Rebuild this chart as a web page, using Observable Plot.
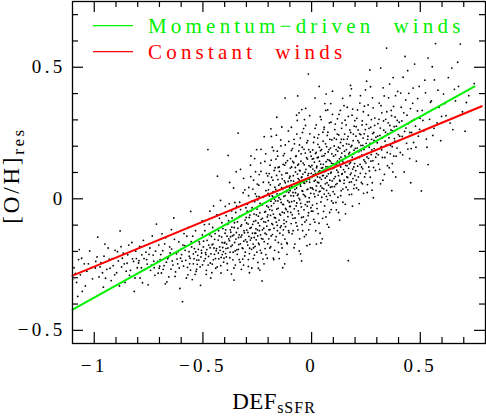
<!DOCTYPE html>
<html>
<head>
<meta charset="utf-8">
<script src="https://cdn.jsdelivr.net/npm/d3@7"></script>
<script src="https://cdn.jsdelivr.net/npm/@observablehq/plot@0.6"></script>
<style>
  html, body { margin: 0; padding: 0; background: #fff; }
  #chart { width: 486px; height: 417px; }
</style>
</head>
<body>
<div id="chart"></div>
<script>
// ---- data ----
const xDomain = [-1.1, 0.8];
const yDomain = [-0.55, 0.75];
const xMajorTicks = [-1, -0.5, 0, 0.5];
const xMinorTicks = [-0.9, -0.8, -0.7, -0.6, -0.4, -0.3, -0.2, -0.1, 0.1, 0.2, 0.3, 0.4, 0.6, 0.7];
const yMajorTicks = [-0.5, 0, 0.5];
const yMinorTicks = [-0.4, -0.3, -0.2, -0.1, 0.1, 0.2, 0.3, 0.4, 0.6, 0.7];

const momentumX = [-1.1, 0.75];
const momentumY = [-0.421, 0.427];
const constantX = [-1.1, 0.783];
const constantY = [-0.292, 0.352];

const seriesNames = ["Momentum\u2212driven\u00a0\u00a0winds", "Constant\u00a0\u00a0winds"];
const seriesColors = ["#00f000", "#ff0000"];

// galaxies: [DEF_sSFR, [O/H]_res]
const galaxies = [
[-1.093,-.262],[-1.081,-.318],[-1.072,-.231],[-1.064,-.289],[-1.055,-.352],[-1.046,-.247],[-1.034,-.275],[-1.021,-.198],[-1.008,-.304],
[-.995,-.263],[-.987,-.221],[-.978,-.297],[-.969,-.243],[-.958,-.336],[-.951,-.172],[-.942,-.268],[-.931,-.229],[-.922,-.311],[-.913,-.254],[-.904,-.196],
[-.897,-.281],[-.889,-.236],[-.881,-.122],[-.874,-.259],[-.866,-.207],[-.858,-.318],[-.849,-.245],[-.841,-.176],[-.833,-.272],[-.824,-.228],[-.816,-.352],[-.809,-.199],[-.802,-.262],
[-.796,-.244],[-.789,-.301],[-.781,-.213],[-.774,-.158],[-.767,-.269],[-.759,-.231],[-.752,-.327],[-.744,-.187],[-.737,-.252],[-.729,-.214],[-.721,-.291],[-.714,-.096],[-.708,-.238],[-.703,-.176],[-.701,-.264],
[-.697,-.231],[-.691,-.282],[-.685,-.197],[-.679,-.254],[-.672,-.148],[-.666,-.316],[-.659,-.222],[-.653,-.183],[-.647,-.267],[-.641,-.236],[-.634,-.073],[-.628,-.295],[-.622,-.209],[-.616,-.247],[-.611,-.164],[-.606,-.341],[-.603,-.226],[-.601,-.192],
[-.598,-.212],[-.594,-.391],[-.589,-.256],[-.584,-.178],[-.579,-.234],[-.574,-.142],[-.569,-.289],[-.564,-.201],[-.559,-.226],[-.554,-.163],[-.549,-.307],[-.544,-.247],[-.539,-.189],[-.534,-.121],[-.529,-.268],[-.524,-.215],[-.519,-.233],[-.515,-.172],[-.511,-.329],[-.507,-.196],[-.504,-.084],[-.502,-.251],[-.556,-.048],[-.531,-.276],
[-.498,-.183],[-.495,-.236],[-.491,-.121],[-.488,-.205],[-.484,-.272],[-.481,-.158],[-.477,.187],[-.474,-.219],[-.471,-.096],[-.467,-.186],[-.464,-.301],[-.461,-.143],[-.457,-.248],[-.454,-.172],[-.451,-.027],[-.447,-.211],[-.444,-.132],[-.441,-.264],[-.437,-.189],[-.433,.086],[-.430,-.157],[-.427,-.228],[-.424,-.074],[-.421,-.196],[-.417,-.282],[-.414,-.145],[-.411,-.212],[-.408,-.113],[-.405,-.241],[-.402,-.168],[-.468,-.047],[-.419,-.006],
[-.398,-.131],[-.396,-.208],[-.393,-.064],[-.391,-.172],[-.388,-.246],[-.386,-.097],[-.384,.165],[-.381,-.152],[-.379,-.019],[-.376,-.224],[-.374,-.118],[-.371,-.181],[-.369,-.286],[-.366,-.073],[-.364,-.141],[-.361,-.203],[-.359,.041],[-.356,-.109],[-.354,-.166],[-.351,-.252],[-.349,-.052],[-.346,-.128],[-.344,-.194],[-.341,-.088],[-.338,.250],[-.336,-.147],[-.333,-.231],[-.331,-.013],[-.328,-.171],[-.326,-.104],[-.323,-.268],[-.321,-.138],[-.318,-.062],[-.316,-.189],[-.313,.078],[-.311,-.121],[-.308,-.217],[-.306,-.081],[-.304,-.156],[-.302,-.034],[-.357,-.309],[-.327,.112],
[-.299,-.092],[-.297,-.164],[-.295,-.021],[-.293,-.128],[-.291,-.231],[-.289,.043],[-.287,-.071],[-.285,-.188],[-.283,-.112],[-.281,.128],[-.279,-.046],[-.277,-.149],[-.275,-.263],[-.273,-.008],[-.271,-.097],[-.269,-.172],[-.267,.071],[-.265,-.058],[-.263,-.214],[-.261,-.131],[-.259,.019],[-.257,-.083],[-.255,-.156],[-.253,.187],[-.251,-.039],[-.249,-.118],[-.247,-.242],[-.245,-.066],[-.243,.052],[-.241,-.174],[-.239,-.102],[-.237,-.017],[-.235,-.137],[-.233,.104],[-.231,-.206],[-.228,-.312],[-.226,-.074],[-.224,-.153],[-.222,.006],[-.220,-.112],[-.218,.236],[-.216,-.051],[-.214,-.189],[-.212,-.089],[-.210,.031],[-.208,-.135],[-.206,-.027],[-.204,-.226],[-.202,.087],[-.201,-.061],[-.286,-.281],[-.262,.153],[-.238,-.271],[-.215,.142],[-.248,-.004],
[-.199,-.032],[-.197,.062],[-.196,-.118],[-.194,.011],[-.192,-.187],[-.191,.128],[-.189,-.063],[-.187,-.009],[-.186,-.141],[-.184,.082],[-.182,-.044],[-.181,.196],[-.179,-.098],[-.177,.027],[-.176,-.226],[-.174,-.017],[-.172,.108],[-.171,-.071],[-.169,.044],[-.167,-.157],[-.166,-.008],[-.164,.151],[-.162,-.089],[-.160,.310],[-.159,.019],[-.157,-.121],[-.155,.073],[-.154,-.036],[-.152,-.203],[-.150,.004],[-.149,.121],[-.147,-.058],[-.145,.057],[-.144,-.109],[-.142,.224],[-.140,-.014],[-.139,-.172],[-.137,.091],[-.135,-.051],[-.134,.036],[-.132,-.138],[-.130,.164],[-.129,-.022],[-.127,-.081],[-.125,.068],[-.124,-.247],[-.122,.012],[-.120,-.106],[-.119,.137],[-.117,-.041],[-.115,.047],[-.114,-.167],[-.112,.098],[-.110,-.007],[-.109,-.068],[-.107,.258],[-.105,.024],[-.104,-.128],[-.102,.079],[-.101,-.029],[-.185,.237],[-.158,.181],[-.133,-.262],[-.121,.205],[-.143,-.002],
[-.099,.031],[-.098,.117],[-.096,-.052],[-.095,.069],[-.093,.184],[-.092,-.011],[-.090,-.133],[-.089,.046],[-.087,.142],[-.086,-.074],[-.084,.088],[-.083,.011],[-.081,.226],[-.080,-.038],[-.078,.057],[-.077,-.172],[-.075,.119],[-.074,.023],[-.072,-.091],[-.071,.163],[-.069,.041],[-.068,-.016],[-.066,.298],[-.065,.094],[-.063,-.118],[-.062,.018],[-.060,.132],[-.059,-.057],[-.057,.072],[-.056,.205],[-.054,-.004],[-.053,.107],[-.051,-.209],[-.050,.048],[-.048,.171],[-.047,-.031],[-.045,.083],[-.044,-.098],[-.042,.252],[-.041,.029],[-.039,.136],[-.038,-.069],[-.036,.061],[-.035,.188],[-.033,-.144],[-.032,.013],[-.030,.101],[-.029,-.022],[-.027,.344],[-.026,.074],[-.024,-.081],[-.023,.156],[-.021,.035],[-.020,-.012],[-.018,.221],[-.017,.089],[-.015,.474],[-.014,-.053],[-.012,.126],[-.011,.004],[-.009,.063],[-.008,-.173],[-.006,.178],[-.005,.042],[-.003,-.034],[-.002,.097],[-.122,.383],[-.064,.391],[-.046,-.236],[-.028,.279],[-.058,.327],[-.013,-.118],
[.001,.082],[.003,.151],[.004,-.024],[.006,.113],[.007,.036],[.009,.214],[.010,-.078],[.012,.067],[.013,.139],[.015,.008],[.016,.268],[.018,.097],[.019,-.121],[.021,.176],[.022,.049],[.024,.124],[.025,-.037],[.027,.083],[.028,.231],[.030,.014],[.031,.158],[.033,.061],[.034,-.093],[.036,.196],[.037,.107],[.039,.029],[.040,.312],[.042,.132],[.043,-.012],[.045,.074],[.046,.187],[.048,.041],[.049,-.152],[.051,.118],[.052,.253],[.054,.089],[.055,-.048],[.057,.164],[.058,.018],[.060,.103],[.061,.362],[.063,.057],[.064,.209],[.066,-.069],[.067,.141],[.069,.032],[.070,.086],[.072,.241],[.073,-.003],[.075,.121],[.076,.178],[.078,.052],[.079,-.108],[.081,.147],[.082,.289],[.084,.071],[.085,.013],[.087,.193],[.088,.098],[.090,-.041],[.091,.136],[.093,.224],[.094,.046],[.096,.409],[.097,.115],[.099,-.016],[.035,.427],[.074,.338],[.022,-.172],[.058,.272],
[.101,.162],[.103,.077],[.104,.231],[.106,.018],[.108,.129],[.109,.284],[.111,.054],[.113,.187],[.114,-.042],[.116,.109],[.118,.246],[.119,.143],[.121,.006],[.123,.196],[.124,.088],[.126,.321],[.128,.152],[.129,-.081],[.131,.067],[.133,.214],[.134,.121],[.136,.031],[.138,.268],[.139,.174],[.141,.096],[.143,.382],[.144,-.013],[.146,.138],[.148,.226],[.149,.059],[.151,.181],[.153,.102],[.154,.299],[.156,-.057],[.158,.157],[.159,.044],[.161,.209],[.163,.126],[.164,.348],[.166,.081],[.168,.237],[.169,-.235],[.171,.171],[.173,.016],[.174,.133],[.176,.262],[.178,.092],[.179,.431],[.181,.198],[.183,.064],[.184,.147],[.186,.318],[.188,-.028],[.189,.113],[.191,.221],[.193,.171],[.194,.039],[.196,.276],[.198,.134],[.199,.088],
[.201,.192],[.203,.107],[.205,.274],[.207,.041],[.209,.156],[.211,.338],[.213,.221],[.215,.083],[.217,.179],[.219,-.018],[.221,.247],[.223,.131],[.225,.392],[.227,.203],[.229,.062],[.231,.166],[.233,.296],[.235,.114],[.237,.231],[.239,.021],[.241,.187],[.243,.352],[.245,.142],[.247,.263],[.249,.096],[.251,.211],[.253,.447],[.255,.159],[.257,.054],[.259,.238],[.261,.318],[.263,.121],[.265,.196],[.268,.490],[.270,.082],[.272,.272],[.274,.168],[.276,.226],[.278,.033],[.280,.384],[.282,.145],[.284,.004],[.286,.252],[.288,.191],[.291,.307],[.294,.108],[.296,.234],[.299,.172],
[.302,.213],[.305,.286],[.308,.132],[.311,.364],[.314,.241],[.317,.057],[.320,.198],[.323,.327],[.326,.157],[.329,.422],[.332,.261],[.335,.093],[.338,.219],[.341,.302],[.345,.573],[.348,.176],[.351,.247],[.354,.384],[.357,.118],[.360,.279],[.363,.203],[.366,.336],[.369,.031],[.372,.258],[.375,.461],[.378,.162],[.381,.229],[.384,.311],[.387,.083],[.390,.276],[.393,.193],[.396,.408],[.399,.244],[.318,.497],[.371,.134],
[.403,.291],[.408,.176],[.412,.348],[.417,.237],[.421,.462],[.426,.102],[.430,.541],[.434,.269],[.439,.318],[.443,.189],[.447,.401],[.452,.252],[.456,.061],[.461,.297],[.465,.363],[.469,.214],[.474,.512],[.478,.276],[.482,.143],[.487,.334],[.491,.238],[.495,.427],[.499,.306],[.458,.191],
[.505,.030],[.509,.336],[.516,.258],[.524,.403],[.531,.196],[.536,.535],[.536,.130],[.543,.302],[.551,.372],[.558,.241],[.565,.452],[.570,.590],[.577,.289],[.586,.348],[.594,.221],
[.607,.398],[.618,.316],[.629,.461],[.645,.497],[.650,.263],[.662,.372],[.676,.427],[.684,.588],[.694,.331],
[.706,.257],[.723,.392],[.748,.438],
[-1.087,-.284],[-1.058,-.226],[-1.099,-.305],[-1.041,-.331],[-1.069,-.193],[-1.013,-.262],[-1.027,-.247],[-1.076,-.371],
[-.962,-.281],[-.993,-.238],[-.917,-.227],[-.948,-.302],[-.936,-.187],[-.973,-.259],[-.906,-.289],[-.984,-.146],[-.927,-.264],[-.955,-.218],
[-.862,-.247],[-.893,-.201],[-.838,-.291],[-.871,-.226],[-.819,-.238],[-.846,-.213],[-.884,-.331],[-.827,-.166],[-.853,-.275],[-.806,-.227],[-.877,-.182],[-.812,-.301],
[-.783,-.262],[-.762,-.203],[-.791,-.181],[-.741,-.272],[-.726,-.237],[-.756,-.248],[-.778,-.319],[-.718,-.199],[-.733,-.141],[-.771,-.227],[-.748,-.211],[-.706,-.283],[-.794,-.235],[-.724,-.262],
[-.694,-.212],[-.668,-.241],[-.683,-.268],[-.651,-.206],[-.638,-.252],[-.676,-.171],[-.619,-.229],[-.657,-.297],[-.609,-.263],[-.688,-.133],[-.644,-.191],[-.626,-.278],[-.662,-.228],[-.631,-.154],[-.699,-.256],[-.614,-.201],[-.673,-.323],[-.645,-.117],
[-.596,-.237],[-.582,-.196],[-.571,-.261],[-.563,-.218],[-.552,-.183],[-.541,-.228],[-.533,-.202],[-.526,-.249],[-.517,-.164],[-.509,-.221],[-.587,-.132],[-.576,-.301],[-.561,-.247],[-.547,-.142],[-.536,-.287],[-.521,-.192],[-.513,-.259],[-.503,-.137],[-.592,-.176],[-.567,-.109],[-.544,-.209],[-.528,-.233],[-.557,-.271],[-.506,-.206],
[-.497,-.161],[-.489,-.227],[-.482,-.193],[-.476,-.252],[-.469,-.137],[-.463,-.209],[-.458,-.175],[-.452,-.232],[-.446,-.154],[-.439,-.197],[-.434,-.259],[-.428,-.121],[-.423,-.183],[-.416,-.223],[-.412,-.166],[-.406,-.201],[-.493,-.098],[-.485,-.287],[-.473,-.176],[-.466,-.244],[-.455,-.109],[-.449,-.187],[-.442,-.227],[-.436,-.061],[-.429,-.206],[-.425,-.141],[-.418,-.254],[-.413,-.091],[-.409,-.185],[-.403,-.226],[-.486,-.212],[-.459,-.281],
[-.399,-.166],[-.395,-.118],[-.392,-.221],[-.389,-.142],[-.385,-.187],[-.382,-.083],[-.378,-.159],[-.375,-.203],[-.372,-.127],[-.368,-.046],[-.365,-.176],[-.362,-.232],[-.358,-.137],[-.355,-.091],[-.352,-.198],[-.348,-.153],[-.345,-.028],[-.342,-.211],[-.339,-.112],[-.335,-.174],[-.332,-.067],[-.329,-.241],[-.325,-.145],[-.322,-.099],[-.319,-.187],[-.315,.023],[-.312,-.161],[-.309,-.129],[-.305,-.203],[-.301,-.071],[-.397,-.029],[-.387,-.271],[-.377,.062],[-.367,-.108],[-.357,-.263],[-.347,.103],[-.337,-.192],[-.327,-.041],[-.317,-.229],[-.307,.034],[-.394,-.189],[-.373,-.144],[-.353,-.014],[-.333,-.137],[-.313,-.252],
[-.298,-.119],[-.296,-.047],[-.294,-.176],[-.292,-.096],[-.290,.012],[-.288,-.143],[-.286,-.208],[-.284,-.062],[-.282,-.157],[-.280,.084],[-.278,-.109],[-.276,-.192],[-.274,-.034],[-.272,-.131],[-.270,.037],[-.268,-.227],[-.266,-.086],[-.264,-.147],[-.262,-.011],[-.260,-.181],[-.258,.103],[-.256,-.114],[-.254,-.061],[-.252,-.203],[-.250,.056],[-.248,-.141],[-.246,-.092],[-.244,-.169],[-.242,.008],[-.240,-.121],[-.238,-.053],[-.236,-.196],[-.234,.136],[-.232,-.078],[-.230,-.151],[-.228,-.024],[-.226,-.118],[-.224,-.229],[-.222,.063],[-.220,-.087],[-.218,-.163],[-.216,.011],[-.214,-.131],[-.212,-.048],[-.210,-.212],[-.208,.097],[-.206,-.104],[-.204,-.069],[-.202,-.171],[-.2005,.021],[-.291,-.257],[-.279,.163],[-.267,-.186],[-.253,.009],[-.245,-.264],[-.233,.188],[-.219,-.247],[-.211,.171],[-.257,-.131],[-.241,.092],
[-.1995,-.083],[-.1985,.034],[-.197,-.152],[-.195,.096],[-.193,-.041],[-.191,-.117],[-.190,.053],[-.188,-.182],[-.186,.147],[-.185,-.027],[-.183,-.094],[-.181,.011],[-.180,-.136],[-.178,.071],[-.176,-.058],[-.175,.183],[-.173,-.112],[-.171,-.001],[-.170,-.196],[-.168,.118],[-.166,-.073],[-.165,.036],[-.163,-.144],[-.161,.089],[-.160,-.039],[-.158,-.101],[-.156,.162],[-.155,-.008],[-.153,-.166],[-.151,.052],[-.150,-.081],[-.148,.104],[-.146,-.131],[-.145,.019],[-.143,-.062],[-.141,.201],[-.140,-.103],[-.138,.042],[-.136,-.187],[-.135,.076],[-.133,-.021],[-.131,.131],[-.130,-.118],[-.128,.009],[-.126,-.054],[-.125,.172],[-.123,-.153],[-.121,.061],[-.120,-.036],[-.118,.098],[-.116,-.087],[-.115,.027],[-.113,-.211],[-.111,.145],[-.110,-.049],[-.108,.066],[-.106,-.121],[-.105,.218],[-.103,-.013],[-.101,.044],[-.187,.266],[-.174,-.231],[-.162,.242],[-.149,-.227],[-.137,.273],[-.124,.128],[-.112,-.171],[-.179,.008],[-.154,.119],[-.127,-.094],
[-.0995,.086],[-.098,-.029],[-.097,.153],[-.095,.012],[-.094,-.094],[-.092,.121],[-.091,.047],[-.089,-.061],[-.088,.191],[-.086,.024],[-.085,-.121],[-.083,.067],[-.082,.137],[-.080,-.008],[-.079,.209],[-.077,.036],[-.076,-.073],[-.074,.102],[-.073,.161],[-.071,-.027],[-.070,.058],[-.068,.246],[-.067,-.104],[-.065,.013],[-.064,.128],[-.062,.077],[-.061,-.046],[-.059,.182],[-.058,.002],[-.056,.108],[-.055,-.152],[-.053,.054],[-.052,.231],[-.050,-.017],[-.049,.143],[-.047,.081],[-.046,-.071],[-.044,.031],[-.043,.196],[-.041,-.121],[-.040,.094],[-.038,.017],[-.037,.267],[-.035,-.042],[-.034,.129],[-.032,.059],[-.031,-.088],[-.029,.174],[-.028,.008],[-.026,.112],[-.025,-.136],[-.023,.066],[-.022,.213],[-.020,-.028],[-.019,.151],[-.017,.037],[-.016,-.064],[-.014,.096],[-.013,.187],[-.011,-.011],[-.010,.073],[-.008,.247],[-.007,-.097],[-.005,.121],[-.004,.021],[-.002,.162],[-.001,-.047],[-.093,.272],[-.081,-.186],[-.069,.318],[-.057,-.198],[-.045,.339],[-.033,.301],[-.021,-.178],[-.009,.316],
[.0015,.127],[.0025,.041],[.005,.186],[.006,-.047],[.008,.092],[.009,.153],[.011,.019],[.012,.234],[.014,.106],[.015,-.089],[.017,.071],[.018,.172],[.020,.032],[.021,.281],[.023,.118],[.024,-.018],[.026,.156],[.027,.063],[.029,.207],[.030,-.056],[.032,.102],[.033,.244],[.035,.027],[.036,.143],[.038,.081],[.039,-.131],[.041,.183],[.042,.049],[.044,.301],[.045,.117],[.047,.006],[.048,.162],[.050,.088],[.051,-.074],[.053,.219],[.054,.131],[.056,.038],[.057,.264],[.059,.107],[.060,-.027],[.062,.172],[.063,.079],[.065,.336],[.066,.122],[.068,.009],[.069,.198],[.071,.061],[.072,-.097],[.074,.149],[.075,.253],[.077,.095],[.078,.021],[.080,.187],[.081,.112],[.083,-.052],[.084,.226],[.086,.143],[.087,.044],[.089,.291],[.090,.101],[.092,-.008],[.093,.171],[.095,.068],[.096,.321],[.098,.134],[.099,.027],[.016,.383],[.043,-.168],[.067,.398],[.088,.362],
[.102,.118],[.104,.201],[.105,.046],[.107,.263],[.109,.084],[.110,.167],[.112,-.014],[.114,.226],[.115,.132],[.117,.058],[.119,.304],[.120,.181],[.122,.101],[.124,-.052],[.125,.243],[.127,.137],[.129,.071],[.130,.192],[.132,.336],[.134,.012],[.135,.158],[.137,.226],[.139,.093],[.140,.288],[.142,.144],[.144,.037],[.145,.202],[.147,.111],[.149,.354],[.150,.071],[.152,.246],[.154,.163],[.155,-.021],[.157,.127],[.159,.281],[.160,.187],[.162,.083],[.164,.227],[.165,.142],[.167,.034],[.169,.313],[.170,.116],[.172,.207],[.174,.063],[.175,.176],[.177,.392],[.179,.138],[.180,.252],[.182,.098],[.184,.017],[.185,.203],[.187,.158],[.189,.341],[.190,.077],[.192,.246],[.194,.121],[.195,.185],[.197,.053],[.199,.297],[.183,.418],
[.202,.152],[.204,.238],[.206,.071],[.208,.306],[.210,.193],[.212,.124],[.214,.262],[.216,.034],[.218,.214],[.220,.157],[.222,.364],[.224,.097],[.226,.244],[.228,.183],[.230,.121],[.232,.281],[.234,.057],[.236,.203],[.238,.331],[.240,.148],[.242,.247],[.244,.083],[.246,.196],[.248,.414],[.250,.136],[.252,.283],[.254,.172],[.256,.024],[.258,.226],[.260,.357],[.262,.154],[.264,.268],[.266,.106],[.269,.211],[.271,.426],[.273,.143],[.275,.301],[.277,.186],[.279,.061],[.281,.248],[.283,.346],[.285,.119],[.287,.222],[.290,.279],[.295,.158],
[.304,.238],[.307,.167],[.310,.302],[.313,.112],[.316,.269],[.319,.354],[.322,.186],[.325,.232],[.328,.071],[.331,.296],[.334,.391],[.337,.157],[.340,.253],[.343,.204],[.346,.331],[.349,.126],[.352,.289],[.356,.232],[.359,.436],[.362,.171],[.365,.262],[.368,.316],[.371,.198],[.374,.102],[.377,.351],[.380,.274],[.383,.219],[.386,.392],[.389,.162],[.394,.298],
[.405,.238],[.410,.402],[.415,.296],[.419,.167],[.424,.327],[.428,.256],[.433,.376],[.437,.211],[.442,.487],[.446,.286],[.451,.153],[.455,.343],[.460,.252],[.467,.421],[.472,.302],[.480,.196],[.488,.381],[.497,.264],
[.512,.298],[.521,.451],[.528,.227],[.547,.367],[.555,.502],[.563,.268],[.581,.413],[.598,.313],
[.613,.362],[.637,.288],[.657,.416],[.672,.519],[.712,.366]
];

// ---- build ----
const W = 486, H = 417;
const mL = 72, mR = 1, mT = 1, mB = 74;
const innerW = W - mL - mR, innerH = H - mT - mB;
const majorLen = 11, minorLen = 6;

const fits = [
  ...momentumX.map((x, i) => ({x, y: momentumY[i], s: seriesNames[0]})),
  ...constantX.map((x, i) => ({x, y: constantY[i], s: seriesNames[1]}))
];

const fmt = d => (d < 0 ? "\u2212" : "") + String(Math.abs(d));
const tickStyle = {stroke: "black", strokeWidth: 1.2};
const chart = Plot.plot({
  width: W, height: H,
  marginLeft: mL, marginRight: mR, marginTop: mT, marginBottom: mB,
  x: {domain: xDomain},
  y: {domain: yDomain},
  color: {domain: seriesNames, range: seriesColors},
  style: {fontFamily: "'Liberation Serif', 'Times New Roman', serif", fontSize: "19px", color: "black", background: "white", overflow: "visible"},
  marks: [
    Plot.dot(galaxies, {x: d => d[0], y: d => d[1], r: 0.9, fill: "black", stroke: null}),
    Plot.line(fits, {x: "x", y: "y", z: "s", stroke: "s", strokeWidth: 2}),
    Plot.frame({stroke: "black", strokeWidth: 1.3}),
    // inward ticks on all four sides
    Plot.ruleX(xMajorTicks, {x: d => d, insetTop: innerH - majorLen, ...tickStyle}),
    Plot.ruleX(xMinorTicks, {x: d => d, insetTop: innerH - minorLen, ...tickStyle}),
    Plot.ruleX(xMajorTicks, {x: d => d, insetBottom: innerH - majorLen, ...tickStyle}),
    Plot.ruleX(xMinorTicks, {x: d => d, insetBottom: innerH - minorLen, ...tickStyle}),
    Plot.ruleY(yMajorTicks, {y: d => d, insetRight: innerW - majorLen, ...tickStyle}),
    Plot.ruleY(yMinorTicks, {y: d => d, insetRight: innerW - minorLen, ...tickStyle}),
    Plot.ruleY(yMajorTicks, {y: d => d, insetLeft: innerW - majorLen, ...tickStyle}),
    Plot.ruleY(yMinorTicks, {y: d => d, insetLeft: innerW - minorLen, ...tickStyle}),
    Plot.axisX({ticks: xMajorTicks, tickFormat: fmt, tickSize: 0, tickPadding: 15, fontSize: 19, label: null}),
    Plot.axisY({ticks: yMajorTicks, tickFormat: fmt, tickSize: 0, tickPadding: 7, fontSize: 19, label: null})
  ]
});
document.getElementById("chart").appendChild(chart);

const svg = d3.select(chart);
svg.selectAll('g[aria-label="x-axis tick label"] text, g[aria-label="y-axis tick label"] text')
  .style("letter-spacing", "3.3px");

// axis titles
const xt = svg.append("text")
  .attr("x", 274).attr("y", 409)
  .attr("text-anchor", "middle")
  .attr("font-size", 23)
  .attr("fill", "black")
  .style("letter-spacing", "0.5px");
xt.append("tspan").text("DEF");
xt.append("tspan").attr("dy", 4).attr("font-size", 16).style("letter-spacing", "1px").text("sSFR");

const yt = svg.append("text")
  .attr("transform", "translate(19,175.5) rotate(-90)")
  .attr("text-anchor", "middle")
  .attr("font-size", 23)
  .attr("fill", "black")
  .style("letter-spacing", "2.8px");
yt.append("tspan").text("[O/H]");
yt.append("tspan").attr("dy", 5).attr("font-size", 17).style("letter-spacing", "2.5px").text("res");

// legend
const leg = svg.append("g").attr("aria-label", "legend").attr("text-anchor", "start");
seriesNames.forEach((name, i) => {
  const yy = 25.7 + i * 26;
  leg.append("line").attr("x1", 93).attr("x2", 133).attr("y1", yy).attr("y2", yy)
    .attr("stroke", seriesColors[i]).attr("stroke-width", 1.2);
  leg.append("text").attr("x", 148).attr("y", yy + 7.6)
    .attr("text-anchor", "start")
    .attr("font-size", 21).attr("fill", seriesColors[i])
    .style("letter-spacing", "4.2px").text(name);
});
</script>
</body>
</html>
